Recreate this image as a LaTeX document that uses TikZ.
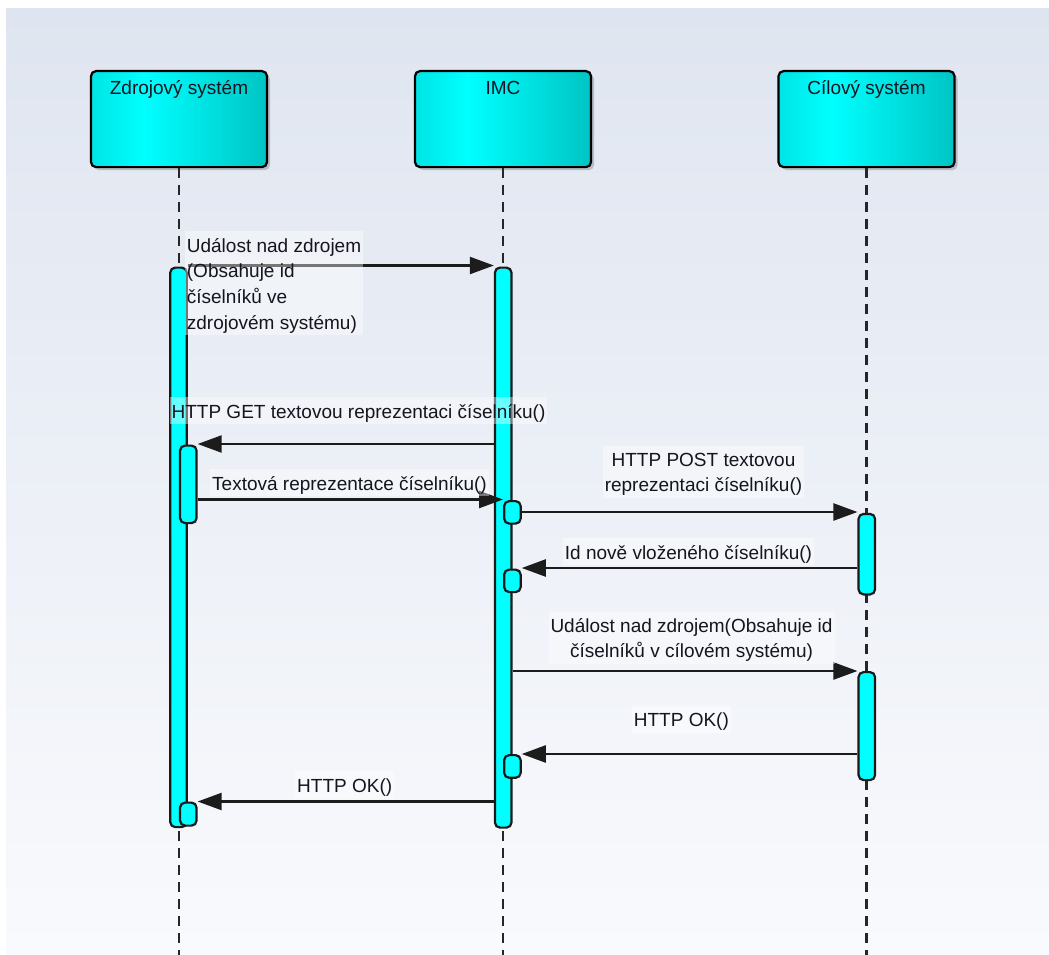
\documentclass[tikz,border=0pt]{standalone}
\usepackage{fontspec}
\setmainfont{Liberation Sans}
\usetikzlibrary{arrows.meta,shadows}

\definecolor{bgtop}{HTML}{DFE5F0}
\definecolor{bgbot}{HTML}{F9FAFD}
\definecolor{cyanA}{HTML}{00E4E4}
\definecolor{cyanB}{HTML}{00FFFF}
\definecolor{cyanC}{HTML}{00C4C4}
\definecolor{ink}{HTML}{151520}
\definecolor{wire}{HTML}{1C1C1C}

% header fill: darker at the edges, bright cyan left of centre
\pgfdeclarehorizontalshading{headshade}{100bp}{%
  color(0bp)=(cyanA); color(25bp)=(cyanA); color(40bp)=(cyanB);
  color(75bp)=(cyanC); color(100bp)=(cyanC)}

\newcommand{\firstline}{\rule{0pt}{19pt}}

\tikzset{
  head/.style={draw=black, line width=2.2pt, rounded corners=5pt,
    shading=headshade, minimum width=176pt, minimum height=96pt,
    inner sep=0pt, anchor=north,
    drop shadow={shadow xshift=3pt, shadow yshift=-3pt, opacity=.28, fill=black!70}},
  headtext/.style={anchor=base, inner sep=0pt, text=ink,
    font=\fontsize{19}{25}\selectfont},
  lifeline/.style={draw=black!85, line width=2.1pt, dash pattern=on 10pt off 7pt},
  bar/.style={draw=black!90, line width=2.2pt, fill=cyanB, rounded corners=5pt,
    inner sep=0pt, minimum width=16.5pt, anchor=north},
  msg/.style={draw=wire, line width=2.3pt,
    -{Triangle[length=24pt,width=17pt]}},
  msglabel/.style={inner sep=2pt, text=ink, fill=white, fill opacity=.4,
    text opacity=1, align=center, anchor=north,
    font=\fontsize{19}{25}\selectfont},
}

\begin{document}
\begin{tikzpicture}[x=1pt, y=-1pt]
  % canvas and gradient backdrop
  \fill[white] (0,0) rectangle (1049,955);
  \fill[top color=bgtop, bottom color=bgbot] (6,9) rectangle (1049,955);
  \useasboundingbox (0,0) rectangle (1049,955);

  % participants
  \node[head] (src) at (179,70) {};
  \node[head] (imc) at (503,70) {};
  \node[head] (dst) at (866.5,70) {};
  \node[headtext] (srcname) at (179,95) {Zdrojový systém};
  \node[headtext] (imcname) at (503,95) {IMC};
  \node[headtext] (dstname) at (866.5,95) {Cílový systém};

  % lifelines
  \coordinate (srcEnd) at (179,955);
  \coordinate (imcEnd) at (503,955);
  \coordinate (dstEnd) at (866.5,955);
  \draw[lifeline] (src.south) -- (srcEnd);
  \draw[lifeline] (imc.south) -- (imcEnd);
  \draw[lifeline] (dst.south) -- (dstEnd);

  % activation bars
  \node[bar, minimum height=559.5pt] (zA) at (178.5,266.5) {};
  \node[bar, minimum height=77.5pt]  (zB) at (188.3,444.5) {};
  \node[bar, minimum height=23pt]    (zC) at (188.3,801.5) {};
  \node[bar, minimum height=560pt]   (iA) at (503.2,266.5) {};
  \node[bar, minimum height=22.5pt]  (iB) at (512.4,500) {};
  \node[bar, minimum height=22.5pt]  (iC) at (512.4,568.5) {};
  \node[bar, minimum height=22.7pt]  (iD) at (512.4,754) {};
  \node[bar, minimum height=80.5pt]  (cA) at (866.8,512.8) {};
  \node[bar, minimum height=108pt]   (cB) at (866.8,671) {};

  % messages
  \draw[msg] (zA.east |- 0,265.5) -- (iA.west |- 0,265.5);
  \draw[msg] (iA.west |- 0,444)   -- (zB.east |- 0,444);
  \draw[msg] (zB.east |- 0,499.5) -- (iB.west |- 0,499.5);
  \draw[msg] (iB.east |- 0,512)   -- (cA.west |- 0,512);
  \draw[msg] (cA.west |- 0,568)   -- (iC.east |- 0,568);
  \draw[msg] (iA.east |- 0,671)   -- (cB.west |- 0,671);
  \draw[msg] (cB.west |- 0,754)   -- (iD.east |- 0,754);
  \draw[msg] (iA.west |- 0,801.5) -- (zC.east |- 0,801.5);

  % message labels
  \node[msglabel, align=left, anchor=north west,
        font=\fontsize{19}{25.7}\selectfont] (l1) at (184.7,231)
    {\firstline Událost nad zdrojem\\(Obsahuje id\\číselníků ve\\zdrojovém systému)};
  \node[msglabel] (l2) at (358.5,397) {\firstline HTTP GET textovou reprezentaci číselníku()};
  \node[msglabel] (l3) at (349.5,469) {\firstline Textová reprezentace číselníku()};
  \node[msglabel] (l4) at (703.5,445.7) {\firstline HTTP POST textovou\\reprezentaci číselníku()};
  \node[msglabel] (l5) at (688.5,538) {\firstline Id nově vloženého číselníku()};
  \node[msglabel] (l6) at (691.5,611.7) {\firstline Událost nad zdrojem(Obsahuje id\\číselníků v cílovém systému)};
  \node[msglabel] (l7) at (681.4,705.7) {\firstline HTTP OK()};
  \node[msglabel] (l8) at (344.7,771) {\firstline HTTP OK()};
\end{tikzpicture}
\end{document}
